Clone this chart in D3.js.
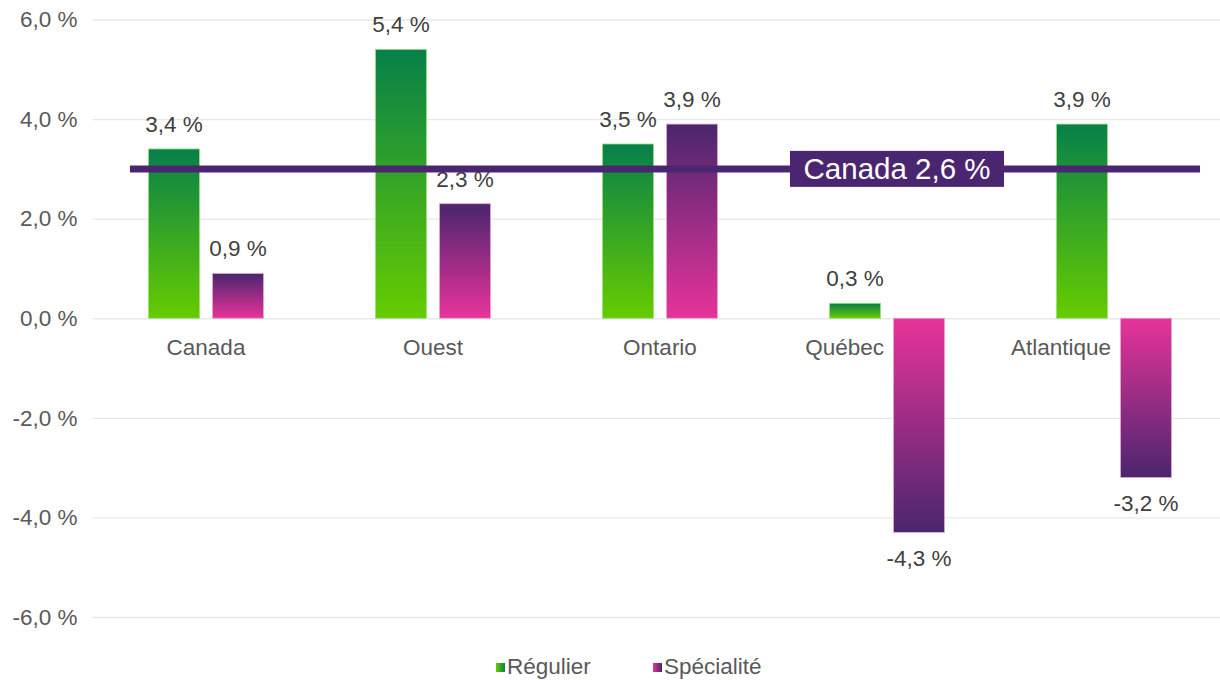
<!DOCTYPE html>
<html>
<head>
<meta charset="utf-8">
<script src="https://cdn.jsdelivr.net/npm/d3@7"></script>
<style>
  body { margin: 0; background: #fff; }
  svg { font-family: "Liberation Sans", Arial, sans-serif; display: block; }
</style>
</head>
<body>
<div id="chart"></div>
<script>
// data
const categories = ['Canada', 'Ouest', 'Ontario', 'Québec', 'Atlantique'];
const series = ['Régulier', 'Spécialité'];
const regulier = [3.4, 5.4, 3.5, 0.3, 3.9];
const specialite = [0.9, 2.3, 3.9, -4.3, -3.2];
const yTicks = [-6, -4, -2, 0, 2, 4, 6];
const canadaLine = 3.0;            // where the reference line sits on the axis
const canadaLabel = 'Canada 2,6 %';

const width = 1220, height = 680;
const fs = 22.5;
const fmt = v => d3.format('.1f')(v).replace('.', ',').replace('\u2212', '-') + ' %';

const colors = {
  'Régulier': { dark: '#07804a', light: '#66cc00', stroke: '#9be27a' },
  'Spécialité': { dark: '#4a266e', light: '#e8339a', stroke: '#e9a6d2' }
};

const svg = d3.select('#chart').append('svg')
  .attr('width', width)
  .attr('height', height);

const x0 = d3.scaleBand()
  .domain(categories)
  .range([92.5, 1227.5])
  .paddingInner(0.493)
  .paddingOuter(0.2465);

const x1 = d3.scaleBand()
  .domain(series)
  .range([0, x0.bandwidth()])
  .paddingInner(0.203);

const y = d3.scaleLinear()
  .domain([-6, 6])
  .range([617, 19.5]);

// gradients: dark end away from zero
const defs = svg.append('defs');
series.forEach((s, i) => {
  const c = colors[s];
  [['pos', 0, 1], ['neg', 1, 0]].forEach(([k, a, b]) => {
    const g = defs.append('linearGradient')
      .attr('id', `grad${i}${k}`)
      .attr('x1', 0).attr('x2', 0).attr('y1', a).attr('y2', b);
    g.append('stop').attr('offset', '0%').attr('stop-color', c.dark);
    g.append('stop').attr('offset', '100%').attr('stop-color', c.light);
  });
  const lg = defs.append('linearGradient')
    .attr('id', `leg${i}`)
    .attr('x1', 0).attr('x2', 1).attr('y1', 0).attr('y2', 0);
  lg.append('stop').attr('offset', '0%').attr('stop-color', c.light);
  lg.append('stop').attr('offset', '100%').attr('stop-color', c.dark);
});

// grid + y labels
const yAxis = d3.axisLeft(y)
  .tickValues(yTicks)
  .tickSize(-(width - 92.5))
  .tickPadding(15)
  .tickFormat(fmt);

svg.append('g')
  .attr('transform', 'translate(92.5,0)')
  .call(yAxis)
  .call(g => g.select('.domain').remove())
  .call(g => g.selectAll('.tick line').attr('stroke', '#e6e8e8').attr('stroke-width', 1.3))
  .call(g => g.selectAll('.tick text')
    .attr('fill', '#595959')
    .attr('font-size', fs)
    .attr('font-family', '"Liberation Sans", Arial, sans-serif'));

// bars
const rows = categories.map((c, i) => ({ cat: c, values: [regulier[i], specialite[i]] }));

const groups = svg.selectAll('g.cat')
  .data(rows)
  .join('g')
  .attr('class', 'cat')
  .attr('transform', d => `translate(${x0(d.cat)},0)`);

groups.selectAll('rect')
  .data(d => d.values.map((v, i) => ({ s: series[i], i, v })))
  .join('rect')
  .attr('x', d => x1(d.s))
  .attr('width', x1.bandwidth())
  .attr('y', d => y(Math.max(0, d.v)))
  .attr('height', d => Math.abs(y(d.v) - y(0)))
  .attr('fill', d => `url(#grad${d.i}${d.v >= 0 ? 'pos' : 'neg'})`)
  .attr('stroke', d => colors[d.s].stroke)
  .attr('stroke-width', 0.8);

groups.selectAll('text.val')
  .data(d => d.values.map((v, i) => ({ s: series[i], i, v })))
  .join('text')
  .attr('class', 'val')
  .attr('x', d => x1(d.s) + x1.bandwidth() / 2)
  .attr('y', d => d.v >= 0 ? y(d.v) - 17 : y(d.v) + 33.5)
  .attr('text-anchor', 'middle')
  .attr('fill', '#404040')
  .attr('font-size', fs)
  .text(d => fmt(d.v));

// category labels (pushed left when a bar goes below zero)
groups.append('text')
  .attr('x', d => d.values.some(v => v < 0) ? x0.bandwidth() / 2 - 3 : x0.bandwidth() / 2)
  .attr('y', y(0) + 37)
  .attr('text-anchor', d => d.values.some(v => v < 0) ? 'end' : 'middle')
  .attr('fill', '#595959')
  .attr('font-size', fs)
  .text(d => d.cat);

// Canada reference line
const xr = x0.range();
const lineX1 = xr[0] + 0.033 * (xr[1] - xr[0]);
const lineX2 = xr[1] - 0.0242 * (xr[1] - xr[0]);
const lineG = svg.append('g');
lineG.append('line')
  .attr('x1', lineX1).attr('x2', lineX2)
  .attr('y1', y(canadaLine)).attr('y2', y(canadaLine))
  .attr('stroke', '#4b2670')
  .attr('stroke-width', 7);

const labelCx = x0('Québec') + x0.bandwidth() / 2 + 10;
lineG.append('rect')
  .attr('x', labelCx - 107).attr('width', 214)
  .attr('y', y(canadaLine) - 18).attr('height', 36)
  .attr('fill', '#4b2670');
lineG.append('text')
  .attr('x', labelCx)
  .attr('y', y(canadaLine) + 10.5)
  .attr('text-anchor', 'middle')
  .attr('fill', '#fff')
  .attr('font-size', 29.5)
  .text(canadaLabel);

// legend
const legendX = [496, 653];
const legend = svg.selectAll('g.leg')
  .data(series)
  .join('g')
  .attr('class', 'leg')
  .attr('transform', (d, i) => `translate(${legendX[i]},663)`);
legend.append('rect')
  .attr('width', 9).attr('height', 9)
  .attr('fill', (d, i) => `url(#leg${i})`);
legend.append('text')
  .attr('x', 11).attr('y', 10.5)
  .attr('fill', '#595959')
  .attr('font-size', fs)
  .text(d => d);
</script>
</body>
</html>
